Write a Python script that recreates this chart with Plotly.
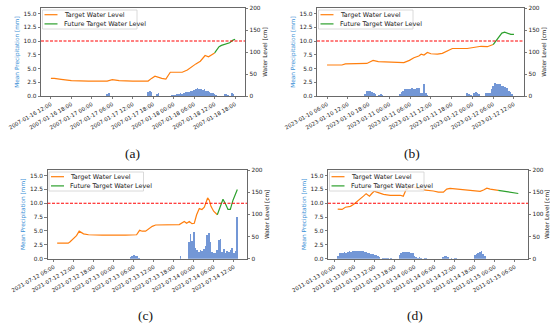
import pandas as pd
import plotly.graph_objects as go

# ---------------- data ----------------
start_a = "2007-01-16 12:00"
start_b = "2023-01-10 06:00"
start_c = "2021-07-12 07:00"
start_d = "2011-01-13 01:00"

# panel (a)
wl_a_hours = [0, 1, 3, 6, 11, 16.5, 18, 20, 24, 28.5, 29.5, 30.5, 32.5, 33.7, 35, 36.5, 38.5, 40, 41.5, 42.5, 43.8, 44.5, 45.2, 46.2, 47.2, 48]
wl_a_cm = [40, 40, 38, 35, 34, 34, 37, 35, 34, 34, 40, 45, 40, 38.5, 54, 54, 54, 59, 68, 73, 79, 86, 92, 89, 95, 98]
fut_a_hours = [48, 49.3, 50, 51, 52.4, 53.4, 54]
fut_a_cm = [98, 112, 115, 117, 121, 127, 129]
prec_a_hours = [16.5, 17, 28.5, 29, 29.5, 31, 31.5,
                35.5, 36, 36.5, 37, 37.5, 38, 38.5, 39, 39.5, 40, 40.5, 41, 41.5, 42, 42.5, 43, 43.5,
                44, 44.5, 45, 45.5, 46, 46.5, 47, 47.5, 48, 48.5, 51, 51.5, 52, 53, 53.5]
prec_a_mm = [0.3, 0.55, 0.8, 0.85, 0.75, 0.45, 0.5,
             0.1, 0.2, 0.1, 0.3, 0.3, 0.5, 0.4, 0.6, 0.7, 0.8, 0.7, 0.9, 1.0, 1.1, 1.3, 1.5, 1.3,
             1.2, 1.1, 1.2, 1.0, 0.9, 0.8, 0.6, 0.5, 0.3, 0.1, 0.3, 0.4, 0.2, 0.5, 0.4]

# panel (b)
wl_b_hours = [0, 4.3, 5.3, 11.5, 12.5, 13.3, 14.8, 17.8, 22.2, 23.8, 25.1, 26.5, 27.2, 28, 29, 30, 31.9, 33.3, 34.8, 36.2, 40.5, 42.5, 44.5, 46.3, 47.3, 48]
wl_b_cm = [70.5, 70.5, 73, 74, 78, 81, 78, 77, 76, 81, 87, 91, 95, 93, 99, 96, 95, 97, 102, 108, 108, 111, 113, 112, 115, 117]
fut_b_hours = [48, 49.3, 50.5, 51.3, 52.2, 53.1, 54]
fut_b_cm = [117, 130, 143, 145, 143, 140, 140]
prec_b_hours = [11, 11.5, 12, 12.5, 13, 13.5, 14, 15, 15.5, 16,
                21, 21.5, 22, 22.5, 23, 23.5, 24, 24.5, 25, 25.5, 26, 26.5, 27, 27.5, 28, 28.5, 29,
                40.5, 41, 41.5, 42.5, 43, 43.5, 44,
                46, 46.5, 47, 47.5, 48, 48.5, 49, 49.5, 50, 50.5, 51, 51.5, 52, 52.5, 53, 53.5]
prec_b_mm = [0.3, 0.9, 1.0, 1.0, 0.8, 0.6, 0.3, 0.2, 0.3, 0.1,
             0.3, 0.7, 1.0, 1.2, 1.3, 1.2, 1.3, 1.4, 1.3, 1.2, 1.4, 1.5, 0.6, 0.5, 2.2, 0.5, 0.1,
             0.6, 0.3, 0.1, 0.6, 0.8, 0.6, 0.3,
             0.6, 0.6, 0.5, 1.2, 1.8, 2.3, 2.2, 2.1, 2.1, 1.9, 1.8, 1.6, 1.4, 1.0, 0.7, 0.3]

# panel (c)
wl_c_hours = [0, 3.3, 3.8, 4.8, 5.8, 6.6, 7.2, 7.9, 9.4, 13.5, 20.5, 23.8, 24.7, 25.5, 26.5, 27.5, 28.5, 29.5, 33.6, 36.6, 38.1, 38.8, 39.6, 40.4, 41.1, 41.8, 42.6, 43.4, 44.1, 44.6, 45.1, 45.6, 46.1, 46.9, 48]
wl_c_cm = [35, 35, 37.6, 46, 52, 62, 60, 56, 54, 53, 53, 54, 64, 62, 62, 68, 73, 76, 76, 77, 84, 80, 84, 79, 80, 99, 113, 111, 116, 125, 137, 132, 118, 107, 99]
fut_c_hours = [48, 48.7, 49.7, 50.5, 51.2, 51.9, 52.7, 54]
fut_c_cm = [99, 113, 134, 123, 111, 111, 132, 156]
prec_c_hours = [22, 22.5, 23, 23.5, 24, 24.5, 37,
                39.5, 40, 40.5, 41, 41.5, 42, 42.5, 43, 43.5, 44, 44.5, 45, 45.5, 46, 46.5, 47, 47.5,
                48, 48.5, 49, 49.5, 50, 50.5, 51, 51.5, 52, 52.5, 53, 53.5, 54]
prec_c_mm = [0.3, 0.5, 0.6, 0.5, 0.4, 0.2, 0.5,
             3.0, 4.4, 3.2, 4.8, 2.0, 1.6, 1.2, 1.5, 1.3, 1.7, 2.3, 4.3, 4.7, 3.0, 1.2, 1.0, 1.1,
             1.5, 3.3, 3.5, 1.2, 1.7, 1.0, 1.4, 1.2, 1.5, 1.9, 1.1, 1.3, 7.6]

# panel (d)
wl_d_hours = [0, 1.3, 2.3, 3.8, 4.8, 5.8, 6.8, 7.7, 8.5, 9.5, 10.2, 10.9, 11.7, 13.7, 15.7, 18.7, 19.6, 20.4, 21.1, 21.8, 22.6, 24.1, 25.6, 28.6, 30.1, 31.6, 32.6, 33.6, 35.6, 37.6, 40.1, 42.6, 43.6, 44.6, 45.6, 46.6, 48]
wl_d_cm = [112, 111, 116, 118, 122.6, 128.6, 134, 141, 146.6, 141, 147, 152, 150, 145, 143, 143, 141, 155, 159, 161, 162, 158, 155, 152.6, 150, 150, 157, 158.6, 157, 155, 153, 152, 155, 159, 157, 155.6, 154]
fut_d_hours = [48, 49.6, 51.6, 54]
fut_d_cm = [154, 152, 150, 147]
prec_d_hours = [0, 0.5, 1, 1.5, 2, 2.5, 3, 3.5, 4, 4.5, 5, 5.5, 6, 6.5, 7, 7.5, 8, 8.5, 9, 9.5, 10, 10.5, 11, 11.5, 12, 12.5,
                13.5, 14, 14.5, 15, 16,
                18.5, 19, 19.5, 20, 20.5, 21, 21.5, 22, 22.5, 23, 23.5, 24, 24.5, 25, 26, 26.5,
                31.5, 32, 32.5, 33, 34, 35, 35.5,
                41, 41.5, 42, 42.5, 43, 43.5, 44]
prec_d_mm = [0.5, 1.0, 1.1, 1.0, 1.2, 1.1, 1.2, 1.3, 1.2, 1.3, 1.4, 1.3, 1.4, 1.45, 1.4, 1.3, 1.2, 1.15, 1.0, 1.0, 0.9, 0.8, 0.7, 0.6, 0.4, 0.25,
             0.1, 0.15, 0.2, 0.15, 0.1,
             0.6, 1.0, 1.2, 1.2, 1.2, 1.2, 1.15, 1.1, 1.0, 0.5, 0.3, 0.2, 0.25, 0.2, 0.15, 0.1,
             0.3, 0.5, 0.45, 0.3, 0.15, 0.15, 0.1,
             0.7, 0.9, 1.0, 1.2, 1.3, 0.85, 0.4]

threshold_mm = 10.0
captions = ["(a)", "(b)", "(c)", "(d)"]
legend_names = ["Target Water Level", "Future Target Water Level"]

# ---------------- figure ----------------
W, H = 550, 324
FONT = "DejaVu Sans"
C_ORANGE = "#ff7f0e"
C_GREEN = "#2ca02c"
C_BAR = "rgba(100,140,210,0.9)"
C_BLUE_T = "#3a8fd6"
AX = "#444"


def px(xp):
    return xp / W


def py(yp):
    return 1 - yp / H


panels = [
    dict(start=start_a, wl=(wl_a_hours, wl_a_cm), fut=(fut_a_hours, fut_a_cm), pr=(prec_a_hours, prec_a_mm),
         box=(41, 245, 8, 96), cap=(132, 153)),
    dict(start=start_b, wl=(wl_b_hours, wl_b_cm), fut=(fut_b_hours, fut_b_cm), pr=(prec_b_hours, prec_b_mm),
         box=(317, 524, 8, 96), cap=(412, 153)),
    dict(start=start_c, wl=(wl_c_hours, wl_c_cm), fut=(fut_c_hours, fut_c_cm), pr=(prec_c_hours, prec_c_mm),
         box=(47.5, 247, 170, 258.7), cap=(145, 315)),
    dict(start=start_d, wl=(wl_d_hours, wl_d_cm), fut=(fut_d_hours, fut_d_cm), pr=(prec_d_hours, prec_d_mm),
         box=(328, 528, 170, 258.7), cap=(415, 315)),
]


def to_time(start, hours):
    return pd.Timestamp(start) + pd.to_timedelta(pd.Series(hours, dtype=float), unit="h")


fig = go.Figure()
layout = dict(width=W, height=H, margin=dict(l=0, r=0, t=0, b=0, pad=0), autosize=False,
              paper_bgcolor="white", plot_bgcolor="white", showlegend=False,
              font=dict(family=FONT, size=6, color="#222"), barmode="overlay", bargap=0,
              shapes=[], annotations=[])

for i, p in enumerate(panels):
    n = i + 1
    xa = "x" if n == 1 else f"x{n}"
    yl_idx = 2 * n - 1
    yr_idx = 2 * n
    yl = "y" if yl_idx == 1 else f"y{yl_idx}"
    yr = f"y{yr_idx}"
    x0, x1, y0, y1 = p["box"]
    start = pd.Timestamp(p["start"])

    fig.add_trace(go.Bar(x=to_time(p["start"], p["pr"][0]), y=p["pr"][1], width=30 * 60 * 1000,
                         marker=dict(color=C_BAR, line=dict(width=0)), xaxis=xa, yaxis=yl,
                         showlegend=False, hoverinfo="skip"))
    fig.add_trace(go.Scatter(x=to_time(p["start"], p["wl"][0]), y=p["wl"][1], mode="lines",
                             line=dict(color=C_ORANGE, width=1.2), name=legend_names[0],
                             xaxis=xa, yaxis=yr))
    fig.add_trace(go.Scatter(x=to_time(p["start"], p["fut"][0]), y=p["fut"][1], mode="lines",
                             line=dict(color=C_GREEN, width=1.2), name=legend_names[1],
                             xaxis=xa, yaxis=yr))

    dom_x = [px(x0), px(x1)]
    dom_y = [py(y1), py(y0)]
    xrange = [start - pd.Timedelta(hours=2.9), start + pd.Timedelta(hours=56.9)]
    tick0 = start.normalize()
    layout["xaxis" if n == 1 else f"xaxis{n}"] = dict(
        domain=dom_x, anchor=yl, type="date", range=xrange,
        tick0=tick0, dtick=6 * 3600 * 1000, tickformat="%Y-%m-%d %H:%M", tickangle=-30,
        showline=True, mirror=True, linecolor=AX, linewidth=0.8,
        ticks="outside", ticklen=2.5, tickwidth=0.7, tickcolor=AX,
        showgrid=False, zeroline=False, tickfont=dict(size=5.4, color="#222"), automargin=False)
    layout["yaxis" if yl_idx == 1 else f"yaxis{yl_idx}"] = dict(
        domain=dom_y, anchor=xa, range=[0, 16], dtick=2.5, tickformat=".1f",
        showline=True, linecolor=AX, linewidth=0.8, ticks="outside", ticklen=2.5, tickwidth=0.7,
        tickcolor=AX, showgrid=False, zeroline=False, tickfont=dict(size=5.8, color="#222"),
        title=dict(text="Mean Precipitation [mm]", font=dict(size=5.8, color=C_BLUE_T), standoff=3),
        automargin=False)
    layout[f"yaxis{yr_idx}"] = dict(
        overlaying=yl, anchor=xa, side="right", range=[0, 200], dtick=50,
        showline=True, linecolor=AX, linewidth=0.8, ticks="outside", ticklen=2.5, tickwidth=0.7,
        tickcolor=AX, showgrid=False, zeroline=False, tickfont=dict(size=5.8, color="#222"),
        title=dict(text="Water Level [cm]", font=dict(size=5.8, color="#222"), standoff=3),
        automargin=False)

    # threshold line
    layout["shapes"].append(dict(type="line", xref=f"{xa} domain", x0=0, x1=1, yref=yl,
                                 y0=threshold_mm, y1=threshold_mm,
                                 line=dict(color="red", width=1, dash="3px,1.5px"), layer="above"))

    # legend (drawn inside the axes, upper left)
    layout["shapes"].append(dict(type="rect", xref="paper", yref="paper",
                                 x0=px(x0 + 1.5), x1=px(x0 + 96), y0=py(y0 + 21), y1=py(y0 + 2),
                                 fillcolor="rgba(255,255,255,0.8)",
                                 line=dict(color="#d0d0d0", width=0.8), layer="above"))
    for k, (nm, col) in enumerate(zip(legend_names, [C_ORANGE, C_GREEN])):
        yy = y0 + 6.7 + 9.2 * k
        layout["shapes"].append(dict(type="line", xref="paper", yref="paper",
                                     x0=px(x0 + 3.5), x1=px(x0 + 16.5), y0=py(yy), y1=py(yy),
                                     line=dict(color=col, width=1.2), layer="above"))
        layout["annotations"].append(dict(text=nm, xref="paper", yref="paper",
                                          x=px(x0 + 20.5), y=py(yy), showarrow=False,
                                          xanchor="left", yanchor="middle",
                                          font=dict(size=6.4, color="#222", family=FONT)))

    layout["annotations"].append(dict(text=captions[i], xref="paper", yref="paper",
                                      x=px(p["cap"][0]), y=py(p["cap"][1]), showarrow=False,
                                      font=dict(family="Liberation Serif", size=13.5, color="#111"),
                                      xanchor="center", yanchor="middle"))

fig.update_layout(**layout)
fig.write_html("out.html", config={"displayModeBar": False, "staticPlot": True},
               post_script="document.body.style.margin='0';")
